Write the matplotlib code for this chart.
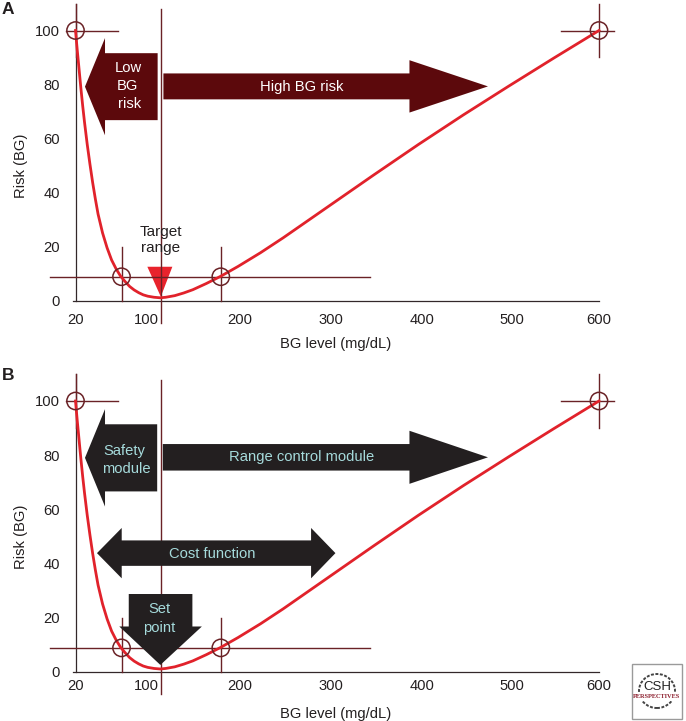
#!/usr/bin/env python
import matplotlib
matplotlib.use('Agg')
import matplotlib.pyplot as plt
from matplotlib.patches import Polygon, Rectangle, Ellipse

# risk curve
bg_level = [20, 21, 22, 23, 24, 25, 26, 28, 30, 33, 36, 39, 42, 45, 50, 55, 60, 65, 70, 75, 80, 85, 90, 95,
            100, 107, 114, 120, 130, 140, 150, 165, 181, 200, 225, 250, 275, 300, 350, 400, 450, 500, 550, 600]
risk = [100, 96.2, 92.5, 89, 85.5, 82, 78.5, 72, 66, 57.8, 50.5, 43.7, 37.6, 32, 25, 19.5, 15, 11.7, 9, 7, 5.2, 3.9, 2.9, 2.1,
        1.6, 1.2, 1, 1.2, 1.8, 2.8, 4, 6.3, 9, 12.6, 17.7, 23.2, 29, 34.8, 46.4, 57.8, 68.8, 79.4, 89.8, 100]

xticks = [20, 99, 202, 303, 404, 504, 600]
xticklabels = ['20', '100', '200', '300', '400', '500', '600']
yticks = [0, 20, 40, 60, 80, 100]

# the low, high and target crosshairs
cross_x = [20, 71, 181, 600]
cross_y = [100, 8.8, 8.8, 100]
target_bg = 114.5

W, H = 686, 721
DARKRED = '#5c090c'
LINE = '#6a2226'
RED = '#e1222b'
BLACK = '#231f20'
TEAL = '#a6dbdc'
FS = 10.6

plt.rcParams['font.family'] = ['Liberation Sans', 'DejaVu Sans']

fig = plt.figure(figsize=(W/100., H/100.), dpi=100)


def make_axes(top, bottom, xpad, labelpad):
    # x 20..600 sits at pixels 75.5..599
    ax = fig.add_axes([75.5/W, 1-bottom/H, 523.5/W, (bottom-top)/H])
    ax.set_xlim(20, 600)
    ax.set_ylim(0, 100)
    for s in ['top', 'right', 'left', 'bottom']:
        ax.spines[s].set_visible(False)
    ax.patch.set_alpha(0)
    ax.set_xticks(xticks)
    ax.set_xticklabels(xticklabels)
    ax.set_yticks(yticks)
    ax.tick_params(length=0, labelsize=FS, colors='#231f20')
    ax.tick_params(axis='x', pad=xpad)
    ax.tick_params(axis='y', pad=11)
    ax.set_xlabel('BG level (mg/dL)', fontsize=FS, color='#231f20', labelpad=labelpad, x=0.4976)
    ax.set_ylabel('Risk (BG)', fontsize=FS, color='#231f20', labelpad=5)
    return ax


def frame(ax):
    ax.plot([20, 20], [0, 110], color='#33282a', lw=0.9, clip_on=False, zorder=1)
    ax.plot([17, 600], [0, 0], color='#33282a', lw=0.9, clip_on=False, zorder=1)
    # crosshairs
    kw = dict(color=LINE, lw=1.0, clip_on=False, zorder=2)
    ax.plot([9, 67], [100, 100], **kw)
    ax.plot([20, 20], [90, 110], **kw)
    ax.plot([-8, 346.5], [8.8, 8.8], **kw)
    ax.plot([71, 71], [0, 19.7], **kw)
    ax.plot([181, 181], [0, 19.7], **kw)
    ax.plot([558, 617], [100, 100], **kw)
    ax.plot([600, 600], [90, 110], **kw)
    ax.plot([target_bg, target_bg], [-8.4, 107.8], **kw)
    # circles stay round, so size them in axis units
    for cx, cy in zip(cross_x, cross_y):
        ax.add_patch(Ellipse((cx, cy), 19.2, 6.4, fc='none', ec=LINE, lw=1.1, clip_on=False, zorder=5))


def harrow(ax, tip, neck, tail, y, half, head, fc, z=3):
    pts = [(tip, y), (neck, y+head), (neck, y+half), (tail, y+half),
           (tail, y-half), (neck, y-half), (neck, y-head)]
    ax.add_patch(Polygon(pts, fc=fc, ec='none', clip_on=False, zorder=z))


def double_harrow(ax, left, neck1, neck2, right, y, half, head, fc):
    pts = [(left, y), (neck1, y+head), (neck1, y+half), (neck2, y+half), (neck2, y+head), (right, y),
           (neck2, y-head), (neck2, y-half), (neck1, y-half), (neck1, y-head)]
    ax.add_patch(Polygon(pts, fc=fc, ec='none', clip_on=False, zorder=3))


# panel A
ax = make_axes(30.5, 300.5, 9, 7.4)
harrow(ax, 30.5, 52.7, 111, 79.2, 12.4, 18, DARKRED)
harrow(ax, 477, 390, 117.4, 79.3, 4.8, 9.7, DARKRED)
ax.add_patch(Polygon([(99.6, 12.5), (127.3, 12.5), (target_bg, 1.4)], fc='#e8232c', ec='none', zorder=1.5))
frame(ax)
ax.plot(bg_level, risk, color=RED, lw=2.0, clip_on=False, zorder=4)
ax.text(78, 86, 'Low', color='white', fontsize=FS, ha='center', va='center', zorder=6)
ax.text(78, 79.4, 'BG', color='white', fontsize=FS, ha='center', va='center', zorder=6)
ax.text(80.4, 72.8, 'risk', color='white', fontsize=FS, ha='center', va='center', zorder=6)
ax.text(271, 79.2, 'High BG risk', color='white', fontsize=FS, ha='center', va='center', zorder=6)
ax.text(target_bg, 22.5, 'Target\nrange', color='#231f20', fontsize=11, ha='center', va='center', linespacing=1.15, zorder=6)

# panel B
ax = make_axes(401, 671.7, 5.4, 9.6)
frame(ax)
harrow(ax, 30.5, 52.7, 110.5, 79, 12.4, 18, BLACK)
harrow(ax, 477, 390, 116.7, 79.2, 4.9, 9.8, BLACK)
double_harrow(ax, 43.8, 71.2, 281, 308, 43.8, 4.7, 9.3, BLACK)
ax.plot(bg_level, risk, color=RED, lw=2.0, clip_on=False, zorder=4)
# set point arrow sits over the lines but the curve runs below its tip
ax.add_patch(Polygon([(114, 2.5), (68.5, 16.7), (79, 16.7), (79, 28.7), (149.5, 28.7), (149.5, 16.7), (160, 16.7)],
                     fc=BLACK, ec='none', zorder=3.5))
ax.text(73.8, 81.7, 'Safety', color=TEAL, fontsize=FS, ha='center', va='center', zorder=6)
ax.text(76, 75, 'module', color=TEAL, fontsize=FS, ha='center', va='center', zorder=6)
ax.text(270, 79.2, 'Range control module', color=TEAL, fontsize=FS, ha='center', va='center', zorder=6)
ax.text(172, 43.6, 'Cost function', color=TEAL, fontsize=FS, ha='center', va='center', zorder=6)
ax.text(113, 23.1, 'Set', color=TEAL, fontsize=FS, ha='center', va='center', zorder=6)
ax.text(113, 16.3, 'point', color=TEAL, fontsize=FS, ha='center', va='center', zorder=6)

# panel letters
fig.text(1.5/W, 1-9/H, 'A', fontsize=12.5, fontweight='bold', color='#231f20', va='center')
fig.text(1.5/W, 1-375/H, 'B', fontsize=12.5, fontweight='bold', color='#231f20', va='center')

# CSH logo box
fig.add_artist(Rectangle((632/W, 1-719/H), 50/W, 55/H, transform=fig.transFigure, fc='white', ec='#9a9a9a', lw=1))
fig.add_artist(Ellipse((657/W, 1-691/H), 36/W, 34/H, transform=fig.transFigure, fc='none', ec='#444444', lw=1.4, ls=(0, (1.5, 0.8))))
fig.add_artist(Rectangle((634/W, 1-701/H), 46/W, 8/H, transform=fig.transFigure, fc='white', ec='none'))
fig.text(657/W, 1-687/H, 'CSH', fontsize=9.5, color='#222222', ha='center', va='center')
fig.text(657/W, 1-697/H, 'PERSPECTIVES', fontsize=4.6, color='#8c1d2c', ha='center', va='center', family='Liberation Serif', fontweight='bold')

fig.savefig('out.png', dpi=100)
